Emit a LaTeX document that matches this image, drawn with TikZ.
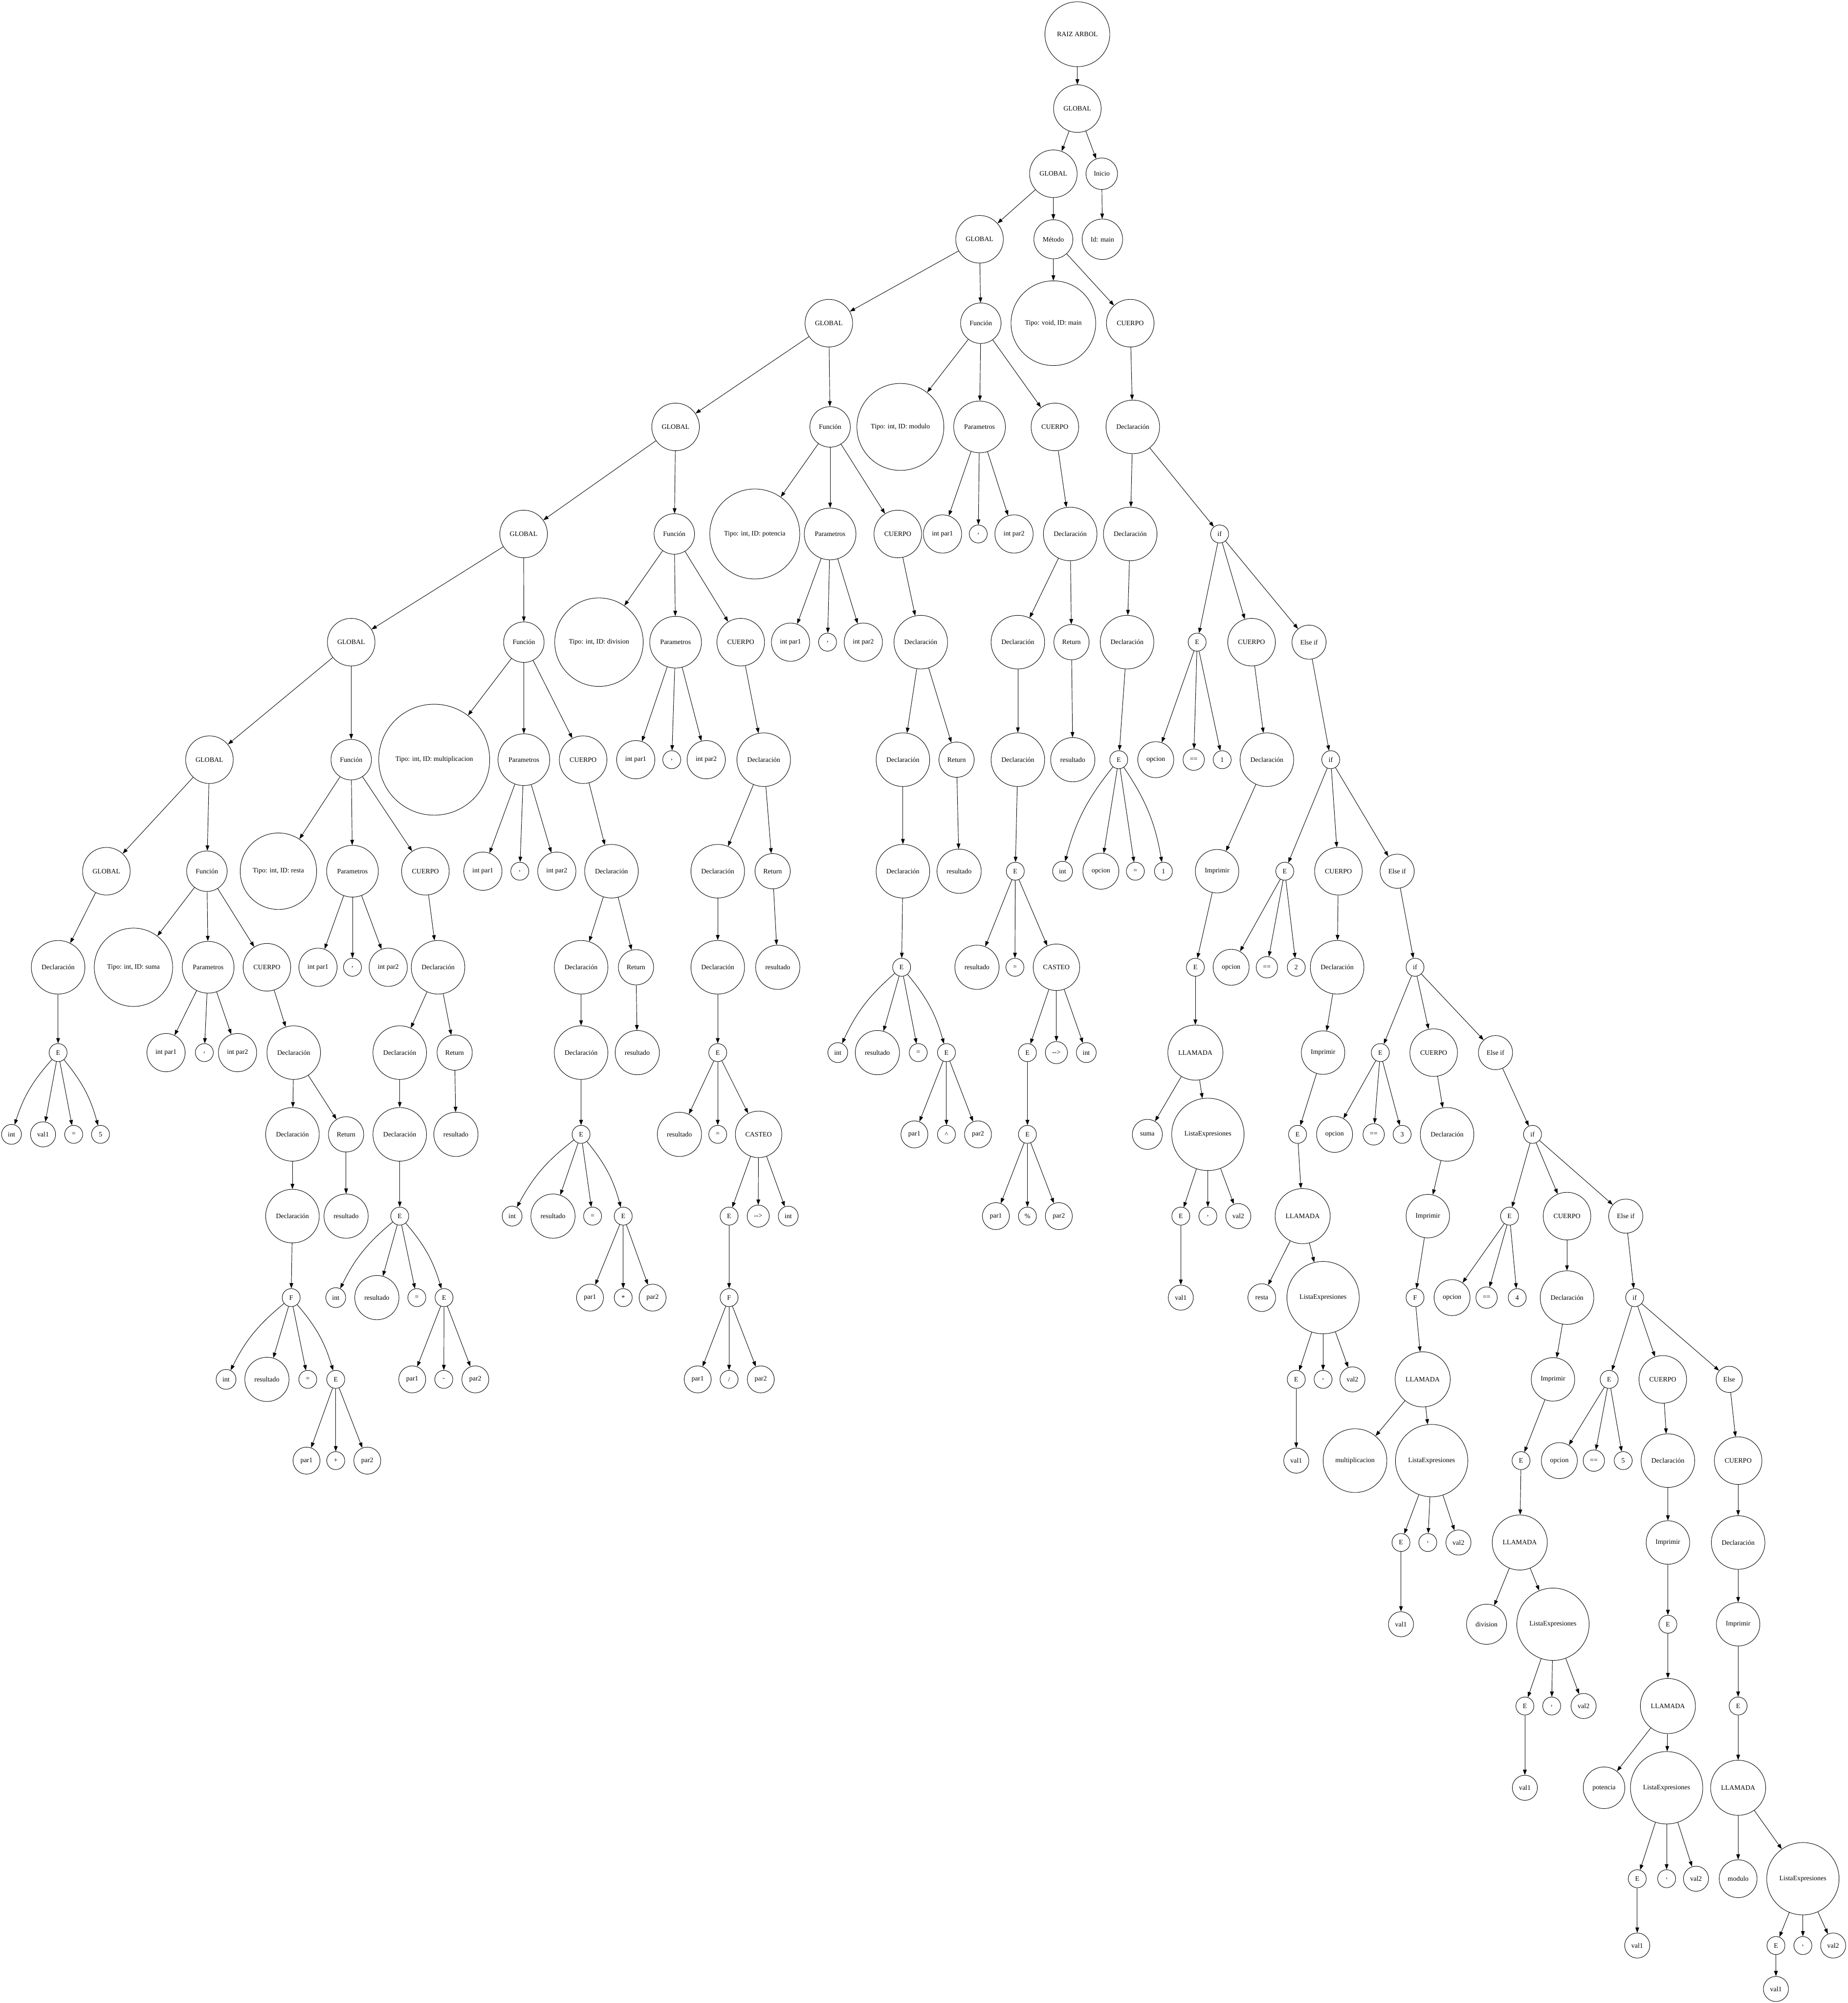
\documentclass[tikz,border=0pt]{standalone}
\usepackage{fontspec}
\setmainfont{Liberation Serif}
\usetikzlibrary{arrows.meta}
\newcommand\gvfont{\fontsize{5.18}{6}\selectfont}
\tikzset{
  gv/.style={draw, circle, inner sep=0pt, line width=0.35pt, font=\gvfont},
  gvedge/.style={line width=0.35pt, -{Triangle[length=0.14cm,width=0.10cm]}}
}
% name, position (x,y in 1/1447 units), diameter (in 0.1 mm), label
\newcommand\nd[4]{\node[gv, minimum size=#3*0.1mm] (#1) at (#2) {#4};}
\begin{document}
\begin{tikzpicture}[x=0.03408cm, y=-0.03408cm]
\path[use as bounding box, fill=white] (0,0) rectangle (1447,1568);
% top
\nd{n0}{843.6,26.8}{173}{RAIZ ARBOL}
\nd{g1}{843.6,85}{127}{GLOBAL}
\nd{g2}{824.8,136}{127}{GLOBAL}
\nd{ini}{862.7,136}{84}{Inicio}
\nd{g3}{767,187.3}{127}{GLOBAL}
\nd{met}{824.8,187.3}{104}{Método}
\nd{idm}{863.2,187.3}{108}{Id: main}
\nd{g4}{649,253}{127}{GLOBAL}
\nd{fmod}{768,253}{108}{Función}
\nd{tvm}{824.8,253}{226}{Tipo: void, ID: main}
\nd{mc}{885,253}{127}{CUERPO}
% modulo
\nd{tmod}{705,334.2}{232}{Tipo: int, ID: modulo}
\nd{pmod}{767,334.2}{138}{Parametros}
\nd{cmod}{826,334.2}{127}{CUERPO}
\nd{pm1}{738,418}{102}{int par1}
\nd{pmc}{766,418}{48}{,}
\nd{pm2}{794,418}{102}{int par2}
\nd{dm1}{838,418}{143}{Declaración}
\nd{dm2}{797,502.7}{143}{Declaración}
\nd{rm}{839,502.7}{94}{Return}
\nd{dm3}{797,594.7}{143}{Declaración}
\nd{rmr}{840,594.7}{118}{resultado}
\nd{em1}{795,682}{48}{E}
\nd{em1a}{765,757.2}{118}{resultado}
\nd{em1b}{794.7,757.2}{48}{=}
\nd{cast}{827.2,757.2}{124}{CASTEO}
\nd{ce}{804.5,824}{48}{E}
\nd{ca}{827.2,824}{59}{-{}->}
\nd{ci}{850.6,824}{53}{int}
\nd{ce2}{804.5,888}{48}{E}
\nd{cp1}{779.8,952}{72}{par1}
\nd{cpo}{804.5,952}{48}{\%}
\nd{cp2}{829.1,952}{72}{par2}
% potencia
\nd{g5}{529,334.2}{127}{GLOBAL}
\nd{fpot}{650,334.2}{108}{Función}
\nd{tpot}{591,418}{240}{Tipo: int, ID: potencia}
\nd{ppot}{650,418}{138}{Parametros}
\nd{cpot}{703,418}{127}{CUERPO}
\nd{pp1}{619,502.7}{102}{int par1}
\nd{ppc}{648,502.7}{48}{,}
\nd{pp2}{676,502.7}{102}{int par2}
\nd{dp1}{721,502.7}{143}{Declaración}
\nd{dp2}{707,594.7}{143}{Declaración}
\nd{rp}{749,594.7}{94}{Return}
\nd{dp3}{707,682}{143}{Declaración}
\nd{rpr}{751,682}{118}{resultado}
\nd{ep1}{706,757.2}{48}{E}
\nd{ep1a}{656,824}{53}{int}
\nd{ep1b}{687,824}{118}{resultado}
\nd{ep1c}{719,824}{48}{=}
\nd{ep2}{741.1,824}{48}{E}
\nd{ep3a}{716,888}{72}{par1}
\nd{ep3b}{741.1,888}{48}{\textasciicircum}
\nd{ep3c}{765.8,888}{72}{par2}
% division
\nd{g6}{410,418}{127}{GLOBAL}
\nd{fdiv}{528,418}{108}{Función}
\nd{tdiv}{469,502.7}{236}{Tipo: int, ID: division}
\nd{pdiv}{529,502.7}{138}{Parametros}
\nd{cdiv}{580,502.7}{127}{CUERPO}
\nd{pd1}{497.8,594.7}{102}{int par1}
\nd{pdc}{526,594.7}{48}{,}
\nd{pd2}{553,594.7}{102}{int par2}
\nd{dd1}{598,594.7}{143}{Declaración}
\nd{dd2}{562,682}{143}{Declaración}
\nd{rd}{605,682}{94}{Return}
\nd{dd3}{562,757.2}{143}{Declaración}
\nd{rdr}{609,757.2}{118}{resultado}
\nd{ed1}{562,824}{48}{E}
\nd{ed1a}{532,888}{118}{resultado}
\nd{ed1b}{562,888}{48}{=}
\nd{castd}{594,888}{124}{CASTEO}
\nd{cde}{570.9,952}{48}{E}
\nd{cda}{593.7,952}{59}{-{}->}
\nd{cdi}{617.2,952}{53}{int}
\nd{cdf}{570.9,1015.8}{48}{F}
\nd{cdp1}{546.3,1079.8}{72}{par1}
\nd{cdo}{570.9,1079.8}{48}{/}
\nd{cdp2}{595.7,1079.8}{72}{par2}
% multiplicacion
\nd{g7}{275,502.7}{127}{GLOBAL}
\nd{fmul}{410.2,502.7}{108}{Función}
\nd{tmul}{340,594.7}{296}{Tipo: int, ID: multiplicacion}
\nd{pmul}{410.2,594.7}{138}{Parametros}
\nd{cmul}{456.6,594.7}{127}{CUERPO}
\nd{pu1}{378.1,682}{102}{int par1}
\nd{puc}{407,682}{48}{,}
\nd{pu2}{436,682}{102}{int par2}
\nd{du1}{478.8,682}{143}{Declaración}
\nd{du2}{455,757.2}{143}{Declaración}
\nd{ru}{498,757.2}{94}{Return}
\nd{du3}{455,824}{143}{Declaración}
\nd{rur}{499,824}{118}{resultado}
\nd{eu1}{455,888}{48}{E}
\nd{eu1a}{401,952}{53}{int}
\nd{eu1b}{433,952}{118}{resultado}
\nd{eu1c}{464,952}{48}{=}
\nd{eu2}{488,952}{48}{E}
\nd{eup1}{462,1015.8}{72}{par1}
\nd{euo}{488,1015.8}{48}{*}
\nd{eup2}{511,1015.8}{72}{par2}
% resta
\nd{g8}{164,594.7}{127}{GLOBAL}
\nd{fres}{275,594.7}{108}{Función}
\nd{tres}{218,682}{204}{Tipo: int, ID: resta}
\nd{pres}{276,682}{138}{Parametros}
\nd{cres}{333.1,682}{127}{CUERPO}
\nd{pr1}{249,757.2}{102}{int par1}
\nd{prc}{276,757.2}{48}{,}
\nd{pr2}{304,757.2}{102}{int par2}
\nd{dr1}{343,757.2}{143}{Declaración}
\nd{dr2}{313,824}{143}{Declaración}
\nd{rr}{356,824}{94}{Return}
\nd{dr3}{313,888}{143}{Declaración}
\nd{rrr}{357,888}{118}{resultado}
\nd{er1}{313,952}{48}{E}
\nd{er1a}{262.9,1015.8}{53}{int}
\nd{er1b}{295.1,1015.8}{118}{resultado}
\nd{er1c}{326.4,1015.8}{48}{=}
\nd{er2}{347.7,1015.8}{48}{E}
\nd{erp1}{322.8,1079.8}{72}{par1}
\nd{ero}{347.5,1079.8}{48}{-}
\nd{erp2}{372.2,1079.8}{72}{par2}
% suma
\nd{g9}{83.3,682}{127}{GLOBAL}
\nd{fsum}{162,682}{108}{Función}
\nd{tsum}{104.5,757.2}{209}{Tipo: int, ID: suma}
\nd{psum}{163,757.2}{138}{Parametros}
\nd{csum}{209,757.2}{127}{CUERPO}
\nd{ps1}{130,824}{102}{int par1}
\nd{psc}{160,824}{48}{,}
\nd{ps2}{186,824}{102}{int par2}
\nd{ds1}{230,824}{143}{Declaración}
\nd{ds2}{229,888}{143}{Declaración}
\nd{rs}{271,888}{94}{Return}
\nd{ds3}{229,952}{143}{Declaración}
\nd{rsr}{271,952}{118}{resultado}
\nd{fs}{228,1015.8}{48}{F}
\nd{fsa}{177,1079.8}{53}{int}
\nd{fsb}{209,1079.8}{118}{resultado}
\nd{fsc}{241,1079.8}{48}{=}
\nd{es2}{262.9,1079.8}{48}{E}
\nd{esp1}{240,1143.4}{72}{par1}
\nd{eso}{262.9,1143.4}{48}{+}
\nd{esp2}{287.6,1143.4}{72}{par2}
% global declaration
\nd{gd}{45.5,757.2}{143}{Declaración}
\nd{ge}{45.5,824}{48}{E}
\nd{gi}{9,888}{53}{int}
\nd{gv}{33.7,888}{67}{val1}
\nd{geq}{57.7,888}{48}{=}
\nd{gfive}{78.7,888}{48}{5}
% main body
\nd{md1}{887,334.2}{143}{Declaración}
\nd{md2}{885,418}{143}{Declaración}
\nd{mif}{955,418}{48}{if}
\nd{md3}{882.5,502.7}{143}{Declaración}
\nd{mde}{876,594.7}{48}{E}
\nd{mdi}{832,682}{53}{int}
\nd{mdo}{862,682}{96}{opcion}
\nd{mdq}{889,682}{48}{=}
\nd{mdn}{911,682}{48}{1}
% branch 1
\nd{ie1}{937.4,502.7}{48}{E}
\nd{ic1}{980,502.7}{127}{CUERPO}
\nd{iel1}{1025,502.7}{91}{Else if}
\nd{io1}{905,594.7}{96}{opcion}
\nd{iq1}{934.7,594.7}{57}{==}
\nd{in1}{957,594.7}{48}{1}
\nd{id1}{992,594.7}{143}{Declaración}
\nd{im1}{953,682}{116}{Imprimir}
\nd{iee1}{936,757.2}{48}{E}
\nd{ll1}{936,824}{147}{LLAMADA}
\nd{lf1}{898.4,888}{80}{suma}
\nd{le1}{945.8,888}{193}{ListaExpresiones}
\nd{lee1}{924.6,952}{48}{E}
\nd{lc1}{945.8,952}{48}{,}
\nd{lvb1}{969.6,952}{67}{val2}
\nd{lva1}{924.6,1015.8}{67}{val1}
% branch 2
\nd{if2}{1042,594.7}{48}{if}
\nd{ie2}{1006,682}{48}{E}
\nd{ic2}{1048,682}{127}{CUERPO}
\nd{iel2}{1094,682}{91}{Else if}
\nd{io2}{964,757.2}{96}{opcion}
\nd{iq2}{992,757.2}{57}{==}
\nd{in2}{1015,757.2}{48}{2}
\nd{id2}{1047,757.2}{143}{Declaración}
\nd{im2}{1036,824}{116}{Imprimir}
\nd{iee2}{1016,888}{48}{E}
\nd{ll2}{1020,952}{147}{LLAMADA}
\nd{lf2}{988,1015.8}{74}{resta}
\nd{le2}{1036,1015.8}{193}{ListaExpresiones}
\nd{lee2}{1015,1079.8}{48}{E}
\nd{lc2}{1036,1079.8}{48}{,}
\nd{lvb2}{1059,1079.8}{67}{val2}
\nd{lva2}{1015,1143.4}{67}{val1}
% branch 3
\nd{if3}{1108,757.2}{48}{if}
\nd{ie3}{1080.8,824}{48}{E}
\nd{ic3}{1122.6,824}{127}{CUERPO}
\nd{iel3}{1171,824}{91}{Else if}
\nd{io3}{1045,888}{96}{opcion}
\nd{iq3}{1075.6,888}{57}{==}
\nd{in3}{1097.9,888}{48}{3}
\nd{id3}{1133.1,888}{143}{Declaración}
\nd{im3}{1118,952}{116}{Imprimir}
\nd{iee3}{1108,1015.8}{48}{F}
\nd{ll3}{1114,1079.8}{147}{LLAMADA}
\nd{lf3}{1061,1143.4}{170}{multiplicacion}
\nd{le3}{1121,1143.4}{193}{ListaExpresiones}
\nd{lee3}{1097,1207.5}{48}{E}
\nd{lc3}{1118,1207.5}{48}{,}
\nd{lvb3}{1142,1207.5}{67}{val2}
\nd{lva3}{1097,1271.5}{67}{val1}
% branch 4
\nd{if4}{1200,888}{48}{if}
\nd{ie4}{1182,952}{48}{E}
\nd{ic4}{1227,952}{127}{CUERPO}
\nd{iel4}{1273,952}{91}{Else if}
\nd{io4}{1137,1015.8}{96}{opcion}
\nd{iq4}{1164,1015.8}{57}{==}
\nd{in4}{1188,1015.8}{48}{4}
\nd{id4}{1227,1015.8}{143}{Declaración}
\nd{im4}{1216,1079.8}{116}{Imprimir}
\nd{iee4}{1191,1143.4}{48}{E}
\nd{ll4}{1190,1207.5}{147}{LLAMADA}
\nd{lf4}{1164,1271.5}{107}{division}
\nd{le4}{1216,1271.5}{193}{ListaExpresiones}
\nd{lee4}{1194,1335.5}{48}{E}
\nd{lc4}{1215,1335.5}{48}{,}
\nd{lvb4}{1240,1335.5}{67}{val2}
\nd{lva4}{1194,1399.5}{67}{val1}
% branch 5
\nd{if5}{1280,1015.8}{48}{if}
\nd{ie5}{1260,1079.8}{48}{E}
\nd{ic5}{1302,1079.8}{127}{CUERPO}
\nd{iels}{1354,1079.8}{70}{Else}
\nd{io5}{1221,1143.4}{96}{opcion}
\nd{iq5}{1248,1143.4}{57}{==}
\nd{in5}{1271,1143.4}{48}{5}
\nd{id5}{1306,1143.4}{143}{Declaración}
\nd{im5}{1306,1207.5}{116}{Imprimir}
\nd{iee5}{1306,1271.5}{48}{E}
\nd{ll5}{1306,1335.5}{147}{LLAMADA}
\nd{lf5}{1256,1399.5}{111}{potencia}
\nd{le5}{1305,1399.5}{193}{ListaExpresiones}
\nd{lee5}{1282,1470.7}{48}{E}
\nd{lc5}{1305,1470.7}{48}{,}
\nd{lvb5}{1328,1470.7}{67}{val2}
\nd{lva5}{1282,1523}{67}{val1}
% else
\nd{ic6}{1361,1143.4}{127}{CUERPO}
\nd{id6}{1361,1207.5}{143}{Declaración}
\nd{im6}{1361,1271.5}{116}{Imprimir}
\nd{iee6}{1361,1335.5}{48}{E}
\nd{ll6}{1361,1399.5}{147}{LLAMADA}
\nd{lf6}{1361,1470.7}{101}{modulo}
\nd{le6}{1411.7,1470.7}{193}{ListaExpresiones}
\nd{lee6}{1390.6,1523}{48}{E}
\nd{lc6}{1411.7,1523}{48}{,}
\nd{lvb6}{1435.4,1523}{67}{val2}
\nd{lva6}{1390.6,1557}{67}{val1}
% straight edges
\foreach \a/\b in {n0/g1, g1/g2, g1/ini, ini/idm, g2/g3, g2/met, met/tvm, met/mc,
 g3/g4, g3/fmod, fmod/tmod, fmod/pmod, fmod/cmod, pmod/pm1, pmod/pmc, pmod/pm2, cmod/dm1,
 dm1/dm2, dm1/rm, dm2/dm3, rm/rmr, dm3/em1, em1/em1a, em1/em1b, em1/cast, cast/ce, cast/ca,
 cast/ci, ce/ce2, ce2/cp1, ce2/cpo, ce2/cp2,
 g4/g5, g4/fpot, fpot/tpot, fpot/ppot, fpot/cpot, ppot/pp1, ppot/ppc, ppot/pp2, cpot/dp1,
 dp1/dp2, dp1/rp, dp2/dp3, rp/rpr, dp3/ep1, ep1/ep1b, ep1/ep1c,
 ep2/ep3a, ep2/ep3b, ep2/ep3c,
 g5/g6, g5/fdiv, fdiv/tdiv, fdiv/pdiv, fdiv/cdiv, pdiv/pd1, pdiv/pdc, pdiv/pd2, cdiv/dd1,
 dd1/dd2, dd1/rd, dd2/dd3, rd/rdr, dd3/ed1, ed1/ed1a, ed1/ed1b, ed1/castd, castd/cde,
 castd/cda, castd/cdi, cde/cdf, cdf/cdp1, cdf/cdo, cdf/cdp2,
 g6/g7, g6/fmul, fmul/tmul, fmul/pmul, fmul/cmul, pmul/pu1, pmul/puc, pmul/pu2, cmul/du1,
 du1/du2, du1/ru, du2/du3, ru/rur, du3/eu1, eu1/eu1b, eu1/eu1c,
 eu2/eup1, eu2/euo, eu2/eup2,
 g7/g8, g7/fres, fres/tres, fres/pres, fres/cres, pres/pr1, pres/prc, pres/pr2, cres/dr1,
 dr1/dr2, dr1/rr, dr2/dr3, rr/rrr, dr3/er1, er1/er1b, er1/er1c,
 er2/erp1, er2/ero, er2/erp2,
 g8/g9, g8/fsum, fsum/tsum, fsum/psum, fsum/csum, psum/ps1, psum/psc, psum/ps2, csum/ds1,
 ds1/ds2, ds1/rs, ds2/ds3, rs/rsr, ds3/fs, fs/fsb, fs/fsc,
 es2/esp1, es2/eso, es2/esp2,
 g9/gd, gd/ge, ge/gv, ge/geq,
 mc/md1, md1/md2, md1/mif, md2/md3, md3/mde, mde/mdo, mde/mdq,
 mif/ie1, mif/ic1, mif/iel1, ie1/io1, ie1/iq1, ie1/in1, ic1/id1, id1/im1, im1/iee1,
 iee1/ll1, ll1/lf1, ll1/le1, le1/lee1, le1/lc1, le1/lvb1, lee1/lva1,
 iel1/if2, if2/ie2, if2/ic2, if2/iel2, ie2/io2, ie2/iq2, ie2/in2, ic2/id2, id2/im2, im2/iee2,
 iee2/ll2, ll2/lf2, ll2/le2, le2/lee2, le2/lc2, le2/lvb2, lee2/lva2,
 iel2/if3, if3/ie3, if3/ic3, if3/iel3, ie3/io3, ie3/iq3, ie3/in3, ic3/id3, id3/im3, im3/iee3,
 iee3/ll3, ll3/lf3, ll3/le3, le3/lee3, le3/lc3, le3/lvb3, lee3/lva3,
 iel3/if4, if4/ie4, if4/ic4, if4/iel4, ie4/io4, ie4/iq4, ie4/in4, ic4/id4, id4/im4, im4/iee4,
 iee4/ll4, ll4/lf4, ll4/le4, le4/lee4, le4/lc4, le4/lvb4, lee4/lva4,
 iel4/if5, if5/ie5, if5/ic5, if5/iels, ie5/io5, ie5/iq5, ie5/in5, ic5/id5, id5/im5, im5/iee5,
 iee5/ll5, ll5/lf5, ll5/le5, le5/lee5, le5/lc5, le5/lvb5, lee5/lva5,
 iels/ic6, ic6/id6, id6/im6, im6/iee6, iee6/ll6, ll6/lf6, ll6/le6, le6/lee6, le6/lc6,
 le6/lvb6, lee6/lva6}
 \draw[gvedge] (\a) -- (\b);
% curved outer edges of the four-child fans
\foreach \a/\b in {ge/gi, mde/mdi, ep1/ep1a, eu1/eu1a, er1/er1a, fs/fsa}
 \draw[gvedge] (\a) to[bend right=12] (\b);
\foreach \a/\b in {ge/gfive, mde/mdn, ep1/ep2, eu1/eu2, er1/er2, fs/es2}
 \draw[gvedge] (\a) to[bend left=12] (\b);
\end{tikzpicture}
\end{document}
